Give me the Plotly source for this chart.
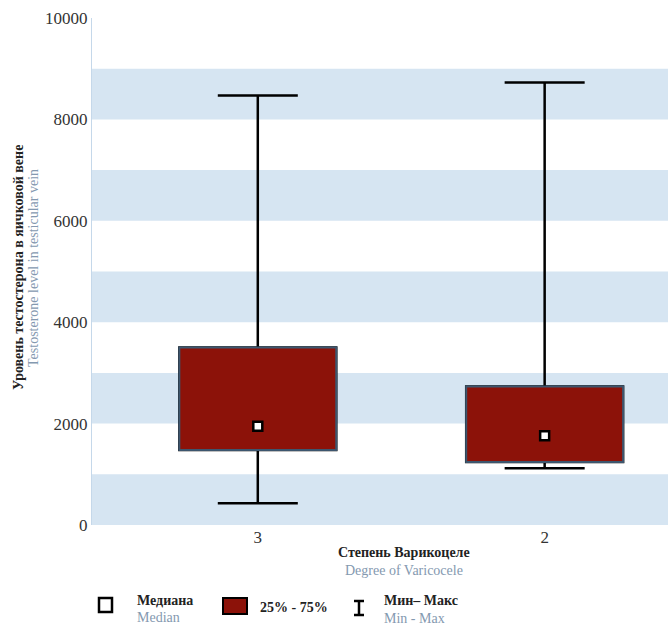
import plotly.graph_objects as go

# Box summary for each varicocele grade
grades = ["3", "2"]
minimum = [430, 1120]
q1 = [1480, 1245]
median = [1950, 1760]
q3 = [3500, 2730]
maximum = [8470, 8730]

y_ticks = [0, 2000, 4000, 6000, 8000, 10000]
y_tick_text = ["0", "2000", "4000", "6000", "8000", "10000"]

FONT = "Liberation Serif"
BOX_FILL = "#8c1209"
BOX_EDGE = "#3d566e"
BAND = "#d6e5f2"
SUB = "#8499b0"

W, H = 668, 626
L, R, T, B = 92, 0, 18, 101
PW, PH = W - L - R, H - T - B


def px(x):
    return (x - L) / PW


def py(y):
    return (H - B - y) / PH


fig = go.Figure()

# whiskers with caps (lower layer)
fig.add_trace(go.Box(
    x=grades, q1=q1, median=median, q3=q3,
    lowerfence=minimum, upperfence=maximum,
    width=0.547, whiskerwidth=0.51,
    line=dict(color="black", width=2.5),
    fillcolor="rgba(0,0,0,0)", boxpoints=False,
    hoverinfo="skip", showlegend=False,
    xaxis="x", yaxis="y",
))

# interquartile box, drawn on an overlaid axis so it sits above the whiskers
fig.add_trace(go.Bar(
    x=grades, y=[b - a for a, b in zip(q1, q3)], base=q1,
    width=0.547,
    marker=dict(color=BOX_FILL, line=dict(color=BOX_EDGE, width=2)),
    hoverinfo="skip", showlegend=False,
    xaxis="x", yaxis="y2",
))

# median marker
fig.add_trace(go.Scatter(
    x=grades, y=median, mode="markers",
    marker=dict(symbol="square", size=9, color="white",
                line=dict(color="black", width=2.5)),
    hoverinfo="skip", showlegend=False,
    xaxis="x", yaxis="y2",
))

shapes = []
# alternating horizontal bands
for lo in range(0, 10000, 2000):
    shapes.append(dict(type="rect", xref="paper", yref="y", x0=0, x1=1,
                       y0=lo, y1=lo + 1000, fillcolor=BAND, line_width=0,
                       layer="below"))

# legend glyphs
shapes.append(dict(type="rect", xref="paper", yref="paper",
                   x0=px(99), x1=px(112), y0=py(612), y1=py(598),
                   fillcolor="white", line=dict(color="black", width=2.5)))
shapes.append(dict(type="rect", xref="paper", yref="paper",
                   x0=px(223), x1=px(247), y0=py(614), y1=py(598),
                   fillcolor=BOX_FILL, line=dict(color="black", width=2)))
for seg in [(359, 601, 359, 615), (354, 601, 364, 601), (354, 615, 364, 615)]:
    shapes.append(dict(type="line", xref="paper", yref="paper",
                       x0=px(seg[0]), y0=py(seg[1]), x1=px(seg[2]), y1=py(seg[3]),
                       line=dict(color="black", width=2.5)))

annotations = []


def text(x, y, s, color="#222", size=14, bold=False, angle=0, xanchor="center"):
    annotations.append(dict(
        xref="paper", yref="paper", x=px(x), y=py(y), text=f"<b>{s}</b>" if bold else s,
        showarrow=False, textangle=angle, xanchor=xanchor, yanchor="middle",
        font=dict(family=FONT, size=size, color=color),
    ))


text(18, 268, "Уровень тестостерона в яичковой вене", bold=True, angle=-90)
text(33, 268, "Testosterone level in testicular vein", color=SUB, angle=-90)
text(404, 552, "Степень Варикоцеле", bold=True)
text(404, 570, "Degree of Varicocele", color=SUB)

text(135, 600, "Медиана", bold=True, xanchor="left")
text(135, 617, "Median", color=SUB, xanchor="left")
text(258, 607, "25% - 75%", bold=True, xanchor="left")
text(382, 600, "Мин– Макс", bold=True, xanchor="left")
text(382, 618, "Min - Max", color=SUB, xanchor="left")

fig.update_layout(
    width=W, height=H,
    margin=dict(l=L, r=R, t=T, b=B),
    paper_bgcolor="white", plot_bgcolor="white",
    shapes=shapes, annotations=annotations,
    barmode="overlay", boxmode="overlay",
    font=dict(family=FONT, size=17, color="#333"),
    xaxis=dict(type="category", categoryorder="array", categoryarray=grades,
               range=[-0.578, 1.43], showgrid=False, zeroline=False,
               showline=False, ticks="",
               tickfont=dict(family=FONT, size=17, color="#333")),
    yaxis=dict(range=[0, 10000], tickvals=y_ticks, ticktext=y_tick_text,
               showgrid=False, zeroline=False, showline=True,
               linecolor="#c5d8ea", linewidth=1, ticks="",
               tickfont=dict(family=FONT, size=17, color="#333")),
    yaxis2=dict(range=[0, 10000], overlaying="y", visible=False,
                showgrid=False, zeroline=False),
)

fig.write_html("out.html")
